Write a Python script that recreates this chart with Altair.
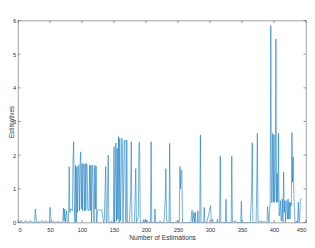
import altair as alt
import pandas as pd

# Series (x = estimation index, y = estimative value)
x_vals = [0, 3, 5, 7, 10, 12, 14, 20, 22, 26, 27, 29, 35, 38, 40, 44, 46, 49, 50, 52, 55, 57, 62, 67,
          70, 71, 72, 73, 74, 76, 77, 79, 80, 81, 82, 83, 85, 86, 87, 88, 89, 90, 91, 92, 93, 94, 95, 96,
          97, 98, 99, 100, 101, 102, 103, 104, 105, 106, 107, 108, 109, 110, 111, 112, 113, 114, 115,
          116, 117, 118, 119, 120, 121, 122, 123, 124, 126, 128, 130, 131, 133, 134, 135, 137, 138, 139,
          141, 142, 145, 146, 147, 149, 150, 151, 152, 153, 154, 155, 156, 157, 158, 159, 160, 161, 162,
          163, 164, 166, 167, 168, 169, 170, 171, 174, 176, 177, 178, 182, 184, 185, 188, 189, 190, 191,
          195, 196, 197, 199, 200, 202, 203, 207, 208, 209, 213, 214, 215, 220, 222, 223, 228, 230, 231,
          232, 233, 236, 237, 238, 245, 249, 250, 252, 253, 254, 255, 256, 257, 260, 270, 272, 273, 275,
          276, 277, 278, 280, 281, 282, 284, 285, 286, 290, 291, 292, 295, 301, 302, 304, 305, 310, 312,
          313, 315, 316, 317, 320, 324, 325, 326, 330, 333, 334, 335, 340, 341, 348, 349, 350, 358, 363,
          365, 366, 367, 372, 373, 374, 375, 380, 381, 385, 387, 389, 390, 391, 392, 394, 395, 396, 397,
          398, 399, 400, 401, 402, 403, 404, 405, 406, 407, 408, 409, 410, 411, 412, 413, 414, 415, 416,
          417, 418, 419, 420, 421, 422, 423, 424, 425, 426, 427, 428, 429, 430, 431, 432, 433, 435, 436,
          437, 438, 439, 440, 441, 442, 443]
y_vals = [0.02, 0.0, 0.06, 0.0, 0.01, 0.06, 0.0, 0.05, 0.0, 0.0, 0.4, 0.0, 0.02, 0.06, 0.0, 0.05, 0.0, 0.0, 0.45, 0.0, 0.05, 0.0, 0.02, 0.0,
          0.0, 0.43, 0.05, 0.4, 0.0, 0.35, 0.0, 0.0, 1.66, 0.3, 0.4, 0.4, 0.35, 1.9, 2.4, 0.6, 0.0, 1.7, 0.0, 1.65, 0.3, 1.7, 1.7, 0.35,
          1.75, 2.1, 0.4, 1.75, 0.35, 1.75, 1.7, 0.35, 1.75, 0.35, 1.75, 1.7, 0.4, 0.35, 0.4, 1.7, 0.35, 1.7, 0.0,
          1.7, 1.65, 0.35, 0.0, 1.7, 0.4, 1.68, 0.0, 0.35, 0.4, 0.35, 0.38, 0.35, 0.1, 0.0, 0.1, 1.66, 0.0, 0.0,
          2.0, 0.0, 0.0, 0.05, 0.0, 0.0, 2.25, 0.0, 1.3, 2.36, 0.05, 2.2, 0.1, 2.55, 0.0, 2.5, 0.05, 1.0, 2.5,
          2.47, 0.0, 2.3, 2.45, 0.1, 0.0, 2.45, 0.0, 0.0, 0.8, 2.4, 0.0, 0.0, 1.6, 0.0, 0.2, 2.35, 2.38, 0.0,
          0.0, 0.08, 0.0, 0.1, 0.0, 0.07, 0.0, 0.0, 2.4, 0.0, 0.0, 0.4, 0.0, 0.0, 0.05, 0.0, 0.0, 0.6, 1.6,
          0.1, 0.0, 0.0, 2.35, 0.0, 0.0, 0.05, 0.0, 0.0, 1.66, 1.0, 1.55, 1.55, 0.0, 0.0, 0.0, 0.37, 0.0, 0.3,
          0.0, 0.3, 0.0, 0.0, 0.35, 0.0, 0.0, 2.6, 0.0, 0.0, 0.45, 0.0, 0.0, 0.5, 0.0, 0.1, 0.0, 0.0, 0.1,
          0.0, 0.0, 1.97, 0.0, 0.0, 0.0, 0.69, 0.0, 0.0, 0.0, 1.97, 0.0, 0.05, 0.0, 0.0, 0.63, 0.0, 0.0, 0.0,
          0.9, 2.37, 0.0, 0.0, 1.0, 2.65, 0.0, 0.05, 0.0, 0.03, 0.0, 0.0, 0.47, 0.2, 0.0, 0.6, 5.85, 0.6, 0.6,
          2.65, 0.6, 2.6, 0.6, 1.2, 5.45, 0.6, 1.45, 0.6, 2.65, 0.2, 0.3, 0.65, 0.05, 0.1, 0.7, 0.0, 1.5, 0.3,
          0.65, 0.0, 0.6, 0.65, 0.1, 0.7, 0.1, 0.6, 0.1, 0.6, 0.5, 2.67, 1.2, 1.95, 0.85, 0.3, 0.0, 0.0, 0.05,
          0.0, 0.6, 0.0, 0.05, 0.65, 0.7, 0.7]

x_ticks = [0, 50, 100, 150, 200, 250, 300, 350, 400, 450]
y_ticks = [0, 1, 2, 3, 4, 5, 6]

W, H = 288, 202
FONT = "Liberation Sans"
AX = "#333333"

df = pd.DataFrame({"x": x_vals, "y": y_vals})
xt = pd.DataFrame({"x": x_ticks})
yt = pd.DataFrame({"y": y_ticks})

xs = alt.Scale(domain=[0, 450], nice=False, zero=False)
ys = alt.Scale(domain=[0, 6], nice=False)

ax_x = alt.Axis(
    values=x_ticks, title="Number of Estimations", domain=False, ticks=False, tickSize=0,
    grid=False, labelPadding=3.5, labelFontSize=5.8, labelColor=AX, labelFont=FONT,
    titleFont=FONT, titleFontSize=6.6, titleFontWeight="normal", titleColor=AX,
    titleBaseline="alphabetic", titleY=16.8)
ax_y = alt.Axis(
    values=y_ticks, title="Estimatives", domain=False, ticks=False, tickSize=0,
    grid=False, labelPadding=2.2, labelFontSize=5.8, labelColor=AX, labelFont=FONT,
    titleFont=FONT, titleFontSize=6.3, titleFontWeight="normal", titleColor=AX,
    titleBaseline="top", titleX=-10.0, titleAngle=270)

line = alt.Chart(df).mark_line(color="#0072BD", strokeWidth=0.55, clip=True).encode(
    x=alt.X("x:Q", scale=xs, axis=ax_x),
    y=alt.Y("y:Q", scale=ys, axis=ax_y),
)

tick_style = dict(color="#555555", strokeWidth=0.6)
xb = alt.Chart(xt).mark_rule(**tick_style).encode(
    x=alt.X("x:Q", scale=xs, axis=ax_x), y=alt.value(H), y2=alt.value(H - 2.5))
xtop = alt.Chart(xt).mark_rule(**tick_style).encode(
    x=alt.X("x:Q", scale=xs, axis=ax_x), y=alt.value(0), y2=alt.value(2.5))
yl = alt.Chart(yt).mark_rule(**tick_style).encode(
    y=alt.Y("y:Q", scale=ys, axis=ax_y), x=alt.value(0), x2=alt.value(2.5))
yr = alt.Chart(yt).mark_rule(**tick_style).encode(
    y=alt.Y("y:Q", scale=ys, axis=ax_y), x=alt.value(W), x2=alt.value(W - 2.5))

chart = alt.layer(line, xb, xtop, yl, yr).properties(
    width=W, height=H,
    padding={"left": 10, "top": 12.5, "right": 1, "bottom": 17.5},
    autosize=alt.AutoSizeParams(type="none"),
    background="white",
).configure_view(stroke="#8a8a8a", strokeWidth=0.8)

chart.save("out.html", embed_options={"renderer": "svg", "actions": False})
